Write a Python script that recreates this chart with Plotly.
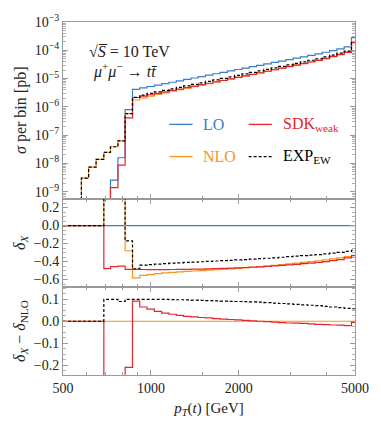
import plotly.graph_objects as go
from plotly.subplots import make_subplots

# ---------------- data ----------------
pt_edges = [500, 578, 612, 649, 690, 727, 771, 816, 865, 916, 970, 1028, 1089, 1153, 1222,
            1294, 1371, 1452, 1538, 1629, 1725, 1828, 1936, 2051, 2172, 2301, 2437, 2582,
            2735, 2897, 3068, 3250, 3443, 3647, 3863, 4092, 4334, 4591, 4863, 4997]

# log10(sigma per bin [pb]); None = empty bin
log_LO = [None, None, None, None, -9.6, -8.59, -7.8, -6.1,
          -5.38, -5.33, -5.28, -5.23, -5.18, -5.13, -5.08, -5.03, -4.98, -4.93, -4.88,
          -4.83, -4.78, -4.73, -4.68, -4.63, -4.58, -4.53, -4.48, -4.43, -4.38, -4.33,
          -4.28, -4.23, -4.18, -4.13, -4.07, -4.01, -3.95, -3.88, -3.55]
log_NLO_low = [None, -8.52, -8.13, -7.86, -7.61, -7.41, -7.2, -6.24]

delta_SDK = [0, 0, 0, 0, -0.478, -0.456, -0.45, -0.487,
             -0.487, -0.488, -0.489, -0.489, -0.489, -0.488, -0.487, -0.486, -0.485, -0.483,
             -0.481, -0.479, -0.476, -0.473, -0.470, -0.466, -0.462, -0.458, -0.453, -0.448,
             -0.443, -0.437, -0.431, -0.424, -0.417, -0.409, -0.400, -0.390, -0.378, -0.360, -0.335]
delta_NLO = [0, 0, 0, 0, 9, 9, 9, -0.28,
             -0.58, -0.553, -0.544, -0.534, -0.526, -0.520, -0.514, -0.508, -0.505, -0.500,
             -0.496, -0.491, -0.486, -0.481, -0.476, -0.470, -0.463, -0.456, -0.449, -0.442,
             -0.434, -0.426, -0.418, -0.409, -0.400, -0.391, -0.381, -0.371, -0.360, -0.345, -0.330]
delta_EXP = [0, 0, 0, 0, 9, 9, 9, -0.17,
             -0.48, -0.44, -0.433, -0.428, -0.423, -0.418, -0.414, -0.410, -0.406, -0.402,
             -0.398, -0.394, -0.390, -0.386, -0.382, -0.378, -0.373, -0.368, -0.363, -0.358,
             -0.352, -0.346, -0.340, -0.334, -0.328, -0.322, -0.315, -0.307, -0.298, -0.288, -0.275]

diff_SDK = [0, 0, 0, 0, -9, -9, -9, -0.21,
            0.092, 0.065, 0.055, 0.045, 0.037, 0.032, 0.027, 0.022, 0.020, 0.017, 0.015,
            0.012, 0.010, 0.008, 0.006, 0.004, 0.002, 0.000, -0.002, -0.004, -0.006,
            -0.008, -0.009, -0.010, -0.012, -0.014, -0.015, -0.017, -0.018, -0.02, -0.005]
diff_EXP = [0, 0, 0, 0, 0.1, 0.1, 0.09, 0.1,
            0.1, 0.1, 0.1, 0.1, 0.1, 0.099, 0.098, 0.097, 0.096, 0.095, 0.094,
            0.093, 0.092, 0.091, 0.09, 0.089, 0.088, 0.087, 0.085, 0.083, 0.081,
            0.079, 0.077, 0.075, 0.073, 0.071, 0.068, 0.065, 0.062, 0.059, 0.057]
diff_NLO = [0] * 39

BLUE = "#3b7dc4"
ORANGE = "#f8931f"
RED = "#e8242b"
FONT = "Liberation Serif"
DASH = "3px,2px"

# ---------------- helpers ----------------
def step(vals):
    return list(pt_edges), list(vals) + [vals[-1]]

n = len(pt_edges) - 1
LO = [10 ** v if v is not None else 1e-15 for v in log_LO]
NLO, SDK, EXP = [], [], []
for i in range(n):
    if i < len(log_NLO_low):
        v = log_NLO_low[i]
        NLO.append(10 ** v if v is not None else 1e-15)
        EXP.append(10 ** v if v is not None else 1e-15)
        SDK.append(LO[i] * (1 + delta_SDK[i]))
    else:
        NLO.append(LO[i] * (1 + delta_NLO[i]))
        EXP.append(LO[i] * (1 + delta_EXP[i]))
        SDK.append(LO[i] * (1 + delta_SDK[i]))

fig = make_subplots(rows=3, cols=1, shared_xaxes=True, vertical_spacing=0,
                    row_heights=[181, 91, 90])

def add(row, vals, color, dash="solid", width=1.2):
    x, y = step(vals)
    fig.add_trace(go.Scatter(x=x, y=y, mode="lines", line=dict(color=color, width=width, dash=dash, shape="hv"),
                             showlegend=False, hoverinfo="skip"), row=row, col=1)

add(1, LO, BLUE)
add(1, NLO, ORANGE)
add(1, SDK, RED)
add(1, EXP, "black", dash=DASH, width=1.2)

add(2, [0] * n, BLUE)
add(2, delta_NLO, ORANGE)
add(2, delta_SDK, RED)
add(2, delta_EXP, "black", dash=DASH, width=1.2)

add(3, diff_NLO, ORANGE)
add(3, diff_SDK, RED)
add(3, diff_EXP, "black", dash=DASH, width=1.2)

axis_common = dict(showline=True, linecolor="#9a9a9a", linewidth=1,
                   ticks="inside", tickcolor="#9a9a9a", showgrid=False, zeroline=False,
                   tickfont=dict(family=FONT, size=14, color="#222"))

xtickvals = [500, 1000, 2000, 5000]
for r in (1, 2, 3):
    fig.update_xaxes(type="log", range=[2.69897, 3.69897], tickvals=xtickvals,
                     ticktext=["500", "1000", "2000", "5000"], ticklen=5,
                     mirror=(True if r == 1 else "ticks"),
                     minor=dict(tickmode="array", tickvals=[600, 700, 800, 900, 1500, 3000, 4000],
                                ticks="inside", ticklen=3, tickcolor="#9a9a9a"),
                     showticklabels=(r == 3), row=r, col=1, **axis_common)

fig.update_xaxes(title=dict(text="<i>p<sub>T</sub></i>(<i>t</i>) [GeV]", font=dict(family=FONT, size=15, color="#222"),
                            standoff=7), row=3, col=1)

TITLE_FONT = dict(family=FONT, size=16, color="#222")
fig.update_yaxes(type="log", range=[-9.24, -3.0], tickvals=[1e-9, 1e-8, 1e-7, 1e-6, 1e-5, 1e-4, 1e-3],
                 ticktext=["10<sup>−9</sup>", "10<sup>−8</sup>", "10<sup>−7</sup>", "10<sup>−6</sup>",
                           "10<sup>−5</sup>", "10<sup>−4</sup>", "10<sup>−3</sup>"], ticklen=5, mirror="ticks",
                 minor=dict(ticks="inside", ticklen=3, tickcolor="#b0b0b0", dtick="D1"),
                 title=dict(text="<i>σ</i> per bin [pb]", font=TITLE_FONT, standoff=4),
                 row=1, col=1, **axis_common)
fig.update_yaxes(range=[-0.685, 0.3], tickvals=[0.2, 0.0, -0.2, -0.4, -0.6], ticktext=["0.2", "0.0", "−0.2", "−0.4", "−0.6"],
                 ticklen=5, mirror="ticks", minor=dict(ticks="inside", ticklen=3, tickcolor="#b0b0b0", dtick=0.05),
                 title=dict(text="<i>δ<sub>X</sub></i>", font=TITLE_FONT, standoff=4),
                 row=2, col=1, **axis_common)
fig.update_yaxes(range=[-0.245, 0.155], tickvals=[0.1, 0.0, -0.1, -0.2], ticktext=["0.1", "0.0", "−0.1", "−0.2"],
                 ticklen=5, mirror="ticks", minor=dict(ticks="inside", ticklen=3, tickcolor="#b0b0b0", dtick=0.025),
                 title=dict(text="<i>δ<sub>X</sub></i> − <i>δ</i><sub>NLO</sub>", font=TITLE_FONT, standoff=4),
                 row=3, col=1, **axis_common)

# legend (manual)
H = 362.0
def py(ypx):
    return (375 - ypx) / H
def px(xpx):
    return (xpx - 63) / 302.0

def leg(x0, y, color, label, dash="solid"):
    fig.add_shape(type="line", xref="paper", yref="paper", x0=px(x0), x1=px(x0 + 24), y0=py(y), y1=py(y),
                  line=dict(color=color, width=1.3, dash=dash))
    fig.add_annotation(xref="paper", yref="paper", x=px(x0 + 33), y=py(y), text=label, showarrow=False,
                       xanchor="left", yanchor="middle", font=dict(family=FONT, size=16, color=color))

leg(173, 118, BLUE, "LO")
leg(255, 118, RED, "SDK<sub>weak</sub>")
leg(173, 151, ORANGE, "NLO")
leg(255, 151, "black", "EXP<sub>EW</sub>", dash=DASH)

fig.add_annotation(xref="paper", yref="paper", x=px(88), y=py(43), text="√<i>S̅</i> = 10 TeV", showarrow=False,
                   xanchor="left", yanchor="middle", font=dict(family=FONT, size=16, color="#222"))
fig.add_annotation(xref="paper", yref="paper", x=px(92), y=py(63), text="<i>μ</i><sup>+</sup><i>μ</i><sup>−</sup> → <i>tt̄</i>",
                   xanchor="left", yanchor="middle", showarrow=False, font=dict(family=FONT, size=16, color="#222"))

fig.update_layout(width=381, height=428, margin=dict(l=63, r=16, t=13, b=53),
                  paper_bgcolor="white", plot_bgcolor="white", showlegend=False)
fig.write_html("out.html", config={"displayModeBar": False},
               post_script="document.body.style.margin='0px';")
